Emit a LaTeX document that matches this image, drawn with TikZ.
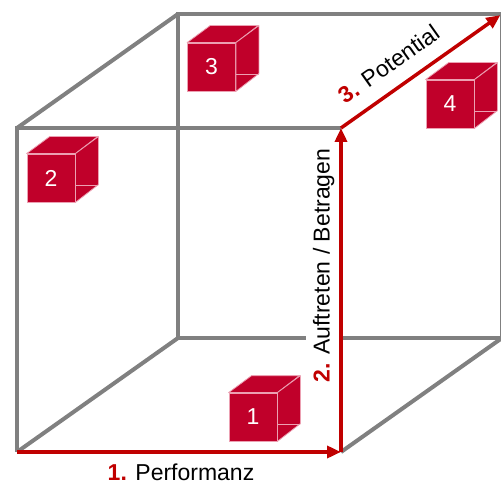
\documentclass[tikz,border=0pt]{standalone}
\usepackage{fontspec}
\setmainfont{Liberation Sans}
\usetikzlibrary{arrows.meta,calc}
\definecolor{framegray}{RGB}{128,128,128}
\definecolor{arrowred}{RGB}{192,0,0}
\definecolor{cubered}{RGB}{192,0,42}
\definecolor{cubeedge}{RGB}{236,160,178}

% a small solid cube: front face is a named node, top and side faces hang off it
\newcommand\redcube[3]{%
  \node[cubeface] (#1) at (#2) {#3};
  \filldraw[cubeside] (#1.north west) -- ++(23,-17) -- ++(48,0) -- (#1.north east) -- cycle;
  \filldraw[cubeside] (#1.north east) -- ++(23,-17) -- ++(0,48) -- (#1.south east) -- cycle;
  \draw[cubeside] ($(#1.south east)+(0,-17)$) -- ++(23,0);
}
% red bold step number in front of an axis name
\newcommand\stepno[1]{\textcolor{arrowred}{\bfseries #1.}}

\begin{document}
\begin{tikzpicture}[x=1pt,y=-1pt,
  frame/.style={draw=framegray, line width=4pt},
  axis/.style={draw=arrowred, line width=3.5pt, -{Triangle[length=14pt,width=12pt]}},
  cubeface/.style={fill=cubered, draw=cubeedge, line width=0.8pt, minimum size=48pt,
                   inner sep=0pt, text=white, font=\fontsize{23}{27}\selectfont},
  cubeside/.style={fill=cubered, draw=cubeedge, line width=0.8pt, line join=round},
  lbl/.style={font=\fontsize{23}{27}\selectfont, text=black},
]
\clip (0,0) rectangle (501,484);

% corners of the front and back squares
\coordinate (FTL) at (17,128);
\coordinate (FTR) at (341,128);
\coordinate (FBL) at (17,452);
\coordinate (FBR) at (341,452);
\coordinate (BTL) at (178,14);
\coordinate (BTR) at (502,14);
\coordinate (BBL) at (178,338);
\coordinate (BBR) at (502,338);

% grey wire frame
\draw[frame] (BTL) -- (BTR) -- (BBR) -- (BBL) -- cycle;
\draw[frame] (FTR) -- (FTL) -- (FBL);
\draw[frame] (FTL) -- (BTL);
\draw[frame] (FBL) -- (BBL);
\draw[frame] (FBR) -- (BBR);

% vertical label with a white backing over the frame
\node[lbl, rotate=90, anchor=south, fill=white, inner sep=6.5pt] (auft) at (341,265.5)
  {\stepno{2} Auftreten / Betragen};

% the three red axes
\draw[axis] (FBL) -- (FBR);
\draw[axis] (FBR) -- (FTR);
\draw[axis, shorten >=2pt] (FTR) -- (BTR)
  node[lbl, pos=0.385, sloped, anchor=south, inner sep=0pt, outer sep=16pt] (pot)
  {\stepno{3} Potential};

\node[lbl, anchor=base] (perf) at (181,480) {\stepno{1} Performanz};

% numbered cubes
\redcube{c1}{253,417}{1}
\redcube{c2}{51,178}{2}
\redcube{c3}{211.5,67}{3}
\redcube{c4}{450,104}{4}
\end{tikzpicture}
\end{document}
